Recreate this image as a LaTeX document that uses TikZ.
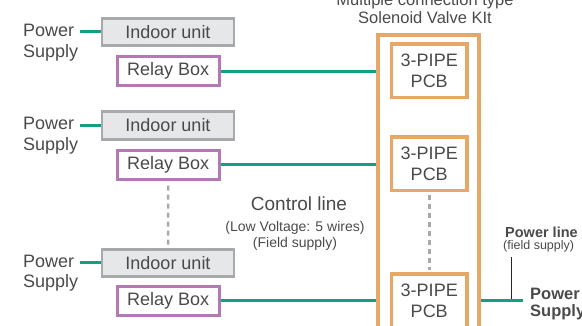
\documentclass[tikz,border=0pt]{standalone}
\usepackage{fontspec}
\setmainfont{Liberation Sans}
\definecolor{grayline}{HTML}{A7A9AC}
\definecolor{grayfill}{HTML}{E6E7E8}
\definecolor{relaycol}{HTML}{B478B4}
\definecolor{kitcol}{HTML}{E8A865}
\definecolor{wirecol}{HTML}{12A082}
\definecolor{txt}{HTML}{4A4A4C}
\begin{document}
\begin{tikzpicture}[x=1pt,y=-1pt,
  every node/.style={inner sep=0pt, text=txt},
  indoor/.style={draw=grayline, fill=grayfill, line width=2.8pt, minimum width=132pt, minimum height=27.5pt, font=\fontsize{18}{20.5}\selectfont},
  relay/.style={draw=relaycol, fill=white, line width=3pt, minimum width=102.5pt, minimum height=28.8pt, font=\fontsize{18}{20.5}\selectfont},
  pcb/.style={draw=kitcol, fill=white, line width=3.5pt, minimum width=75.5pt, minimum height=53.5pt, align=center, font=\fontsize{18}{21}\selectfont},
  kitbox/.style={draw=kitcol, line width=3.5pt, minimum width=101pt, minimum height=310pt},
  pslabel/.style={anchor=north west, align=left, font=\fontsize{18}{20.5}\selectfont},
  wire/.style={draw=wirecol, line width=3pt},
  dashline/.style={draw=grayline, line width=2.5pt, dash pattern=on 5pt off 4pt}
]
\useasboundingbox (0,0) rectangle (582,326);

% kit outline
\node[kitbox] (kit) at (428.5,190) {};

% title
\node[anchor=base, font=\fontsize{16.5}{18}\selectfont] (title1) at (425,5.3) {Multiple connection type};
\node[anchor=base, font=\fontsize{16.5}{18}\selectfont] (title2) at (425,23.3) {Solenoid Valve KIt};

% indoor units
\node[indoor] (ind1) at (168,32) {Indoor unit};
\node[indoor] (ind2) at (168,125.5) {Indoor unit};
\node[indoor] (ind3) at (168,263) {Indoor unit};

% relay boxes
\node[relay] (rel1) at (168.25,71.1) {Relay Box};
\node[relay] (rel2) at (168.25,164.75) {Relay Box};
\node[relay] (rel3) at (168.25,301) {Relay Box};

% PCBs
\node[pcb] (pcb1) at (429.25,70.75) {3-PIPE\\PCB};
\node[pcb] (pcb2) at (429.25,164) {3-PIPE\\PCB};
\node[pcb] (pcb3) at (429.25,300.75) {3-PIPE\\PCB};

% power supply labels (left)
\node[pslabel] (ps1) at (23,24) {Power\\Supply};
\node[pslabel] (ps2) at (23,117) {Power\\Supply};
\node[pslabel] (ps3) at (23,254.5) {Power\\Supply};
\coordinate (pl1) at (80,32);
\coordinate (pl2) at (80,125.5);
\coordinate (pl3) at (80,263);
\draw[wire] (pl1) -- (ind1.west);
\draw[wire] (pl2) -- (ind2.west);
\draw[wire] (pl3) -- (ind3.west);

% control lines
\draw[wire] (rel1.east) -- (rel1.east -| kit.west);
\draw[wire] (rel2.east) -- (rel2.east -| kit.west);
\draw[wire] (rel3.east) -- (rel3.east -| kit.west);

% dashed continuation
\draw[dashline] ([yshift=-5pt]rel2.south) -- (ind3.north);
\draw[dashline] ([yshift=-3pt]pcb2.south) -- ([yshift=2pt]pcb3.north);

% control line texts
\node[anchor=base, font=\fontsize{19}{21}\selectfont] (ctl) at (299,210.7) {Control line};
\node[anchor=base, font=\fontsize{14}{16}\selectfont] (ctl2) at (295,232) {(Low Voltage: 5 wires)};
\node[anchor=base, font=\fontsize{14}{16}\selectfont] (ctl3) at (295,248) {(Field supply)};

% power line (right)
\node[anchor=base west, font=\bfseries\fontsize{14.5}{16}\selectfont] (pwl) at (505,237.5) {Power line};
\node[anchor=base west, font=\fontsize{12.5}{14}\selectfont] (pwl2) at (503,250) {(field supply)};
\coordinate (bl1) at (511,257);
\coordinate (bl2) at (511,299);
\draw[line width=1pt, black!85] (bl1) -- (bl2);
\coordinate (psr) at (523,300.75);
\draw[wire] (kit.east |- pcb3) -- (psr);
\node[anchor=north west, align=left, font=\bfseries\fontsize{16.5}{16.5}\selectfont] (psR) at (530,288.3) {Power\\Supply};
\end{tikzpicture}
\end{document}
